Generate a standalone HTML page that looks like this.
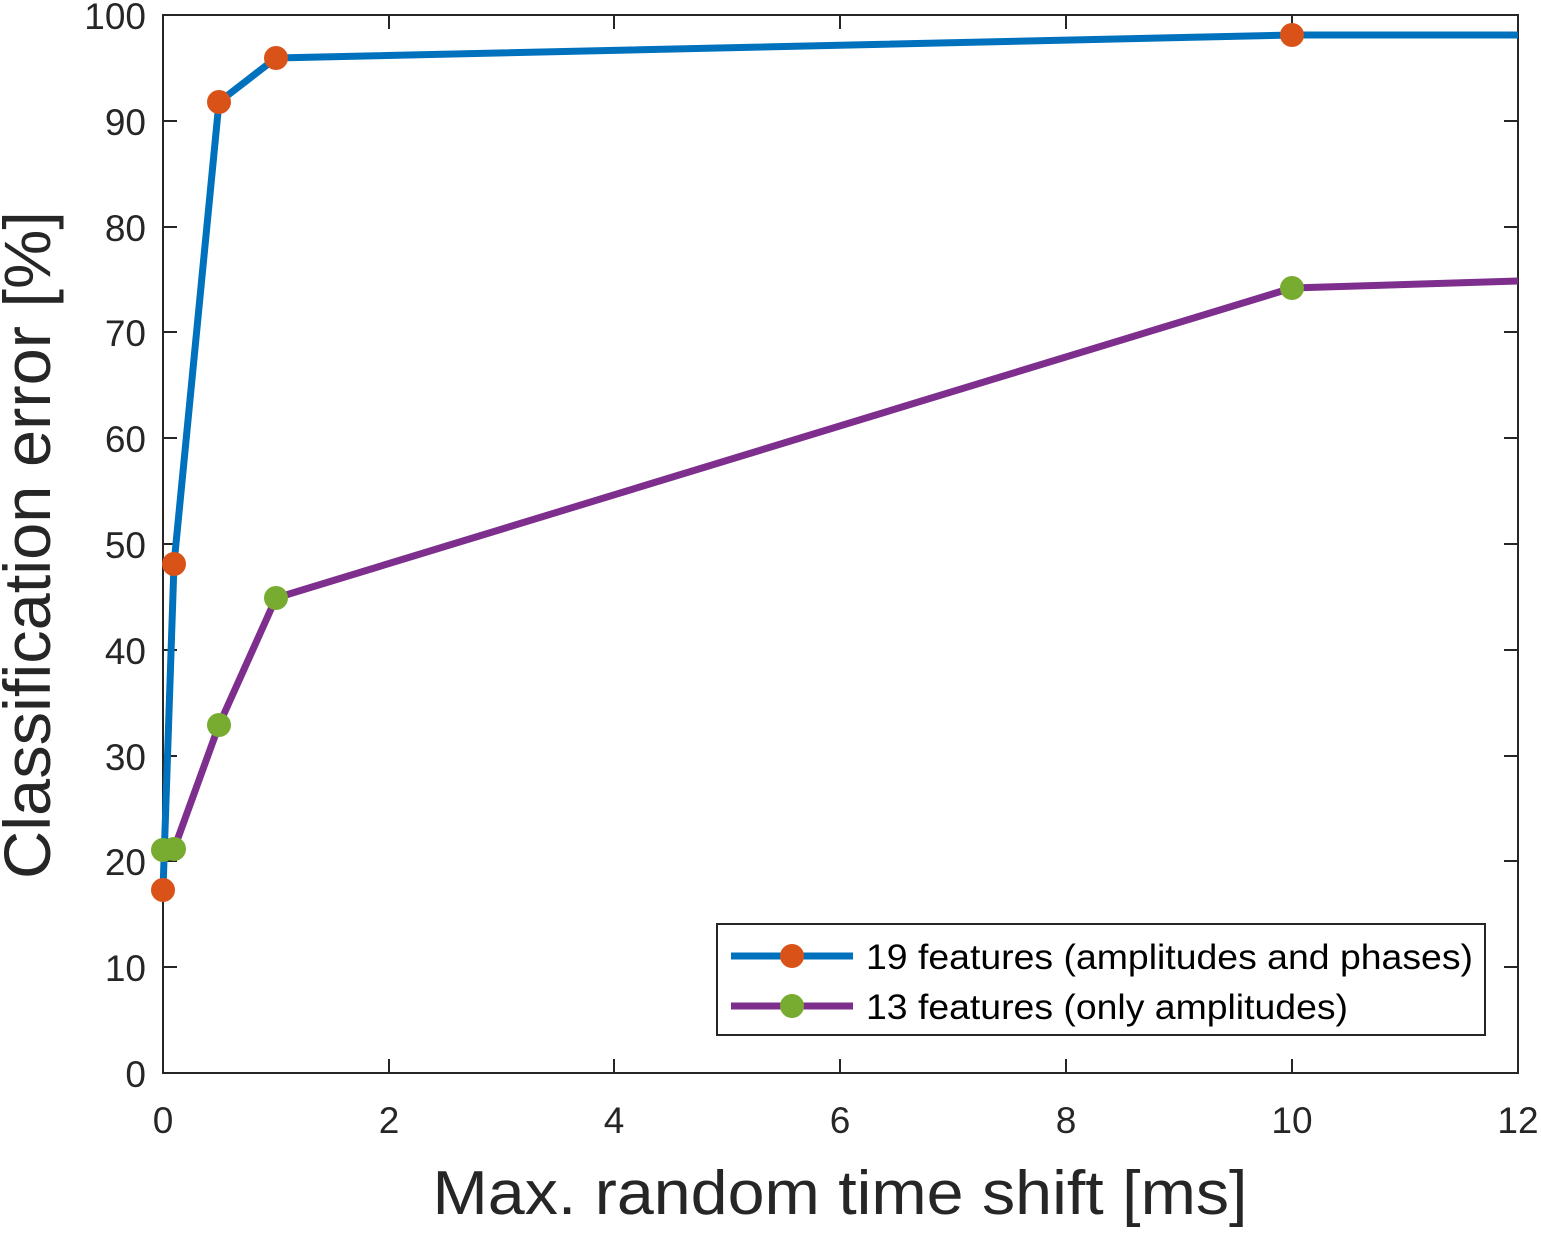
<!DOCTYPE html><html><head><style>body{margin:0;background:#fff}</style></head><body>
<svg width="1541" height="1229" xmlns="http://www.w3.org/2000/svg" font-family="Liberation Sans, Arial, sans-serif">
<rect width="1541" height="1229" fill="#fff"/>
<g stroke="#262626" stroke-width="2" fill="none">
<rect x="163" y="15" width="1355" height="1058"/>
<path d="M389,1073v-14M614,1073v-14M840,1073v-14M1066,1073v-14M1292,1073v-14
M389,15v14M614,15v14M840,15v14M1066,15v14M1292,15v14
M163,967h14M163,861h14M163,756h14M163,650h14M163,544h14M163,438h14M163,332h14M163,227h14M163,121h14
M1518,967h-14M1518,861h-14M1518,756h-14M1518,650h-14M1518,544h-14M1518,438h-14M1518,332h-14M1518,227h-14M1518,121h-14"/>
</g>
<g fill="#262626" font-size="37" text-anchor="end">
<text x="146" y="1087">0</text><text x="146" y="981">10</text><text x="146" y="875">20</text><text x="146" y="770">30</text><text x="146" y="664">40</text><text x="146" y="558">50</text><text x="146" y="452">60</text><text x="146" y="346">70</text><text x="146" y="241">80</text><text x="146" y="135">90</text><text x="146" y="29">100</text>
</g>
<g fill="#262626" font-size="37" text-anchor="middle">
<text x="163" y="1133">0</text><text x="389" y="1133">2</text><text x="614" y="1133">4</text><text x="840" y="1133">6</text><text x="1066" y="1133">8</text><text x="1292" y="1133">10</text><text x="1518" y="1133">12</text>
</g>
<text x="840" y="1214" font-size="62" text-anchor="middle" fill="#262626" textLength="815" lengthAdjust="spacingAndGlyphs">Max. random time shift [ms]</text>
<text transform="translate(50,545) rotate(-90)" font-size="66" text-anchor="middle" fill="#262626" textLength="668" lengthAdjust="spacingAndGlyphs">Classification error [%]</text>
<polyline fill="none" stroke="#0072bd" stroke-width="7" stroke-linejoin="round" points="163,890 174,564 219,102 276,58 1292,35 1518,35"/>
<polyline fill="none" stroke="#7e2f8e" stroke-width="7" stroke-linejoin="round" points="163,850 174,849 219,725 276,598 1292,288 1518,281"/>
<g fill="#d95319"><circle cx="163" cy="890" r="12"/><circle cx="174" cy="564" r="12"/><circle cx="219" cy="102" r="12"/><circle cx="276" cy="58" r="12"/><circle cx="1292" cy="35" r="12"/></g>
<g fill="#77ac30"><circle cx="163" cy="850" r="12"/><circle cx="174" cy="849" r="12"/><circle cx="219" cy="725" r="12"/><circle cx="276" cy="598" r="12"/><circle cx="1292" cy="288" r="12"/></g>
<rect x="717" y="924" width="768" height="111" fill="#fff" stroke="#262626" stroke-width="2"/>
<line x1="731" y1="956" x2="853" y2="956" stroke="#0072bd" stroke-width="7"/><circle cx="792" cy="956" r="12" fill="#d95319"/>
<line x1="731" y1="1006" x2="853" y2="1006" stroke="#7e2f8e" stroke-width="7"/><circle cx="792" cy="1006" r="12" fill="#77ac30"/>
<text x="866" y="969" font-size="35" fill="#000" textLength="607" lengthAdjust="spacingAndGlyphs">19 features (amplitudes and phases)</text>
<text x="866" y="1019" font-size="35" fill="#000" textLength="482" lengthAdjust="spacingAndGlyphs">13 features (only amplitudes)</text>
</svg></body></html>
